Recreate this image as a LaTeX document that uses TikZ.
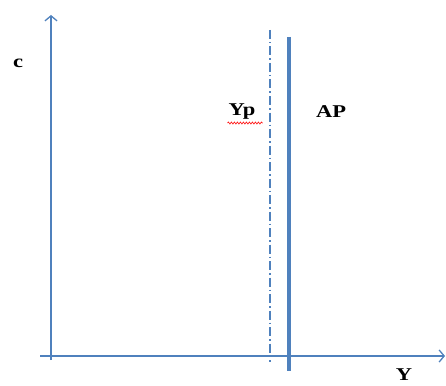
\documentclass[tikz,border=0pt]{standalone}
\usepackage{fontspec}
\setmainfont[FakeStretch=1.25]{Liberation Serif}
\usetikzlibrary{arrows.meta, decorations.pathmorphing}
\definecolor{axisblue}{HTML}{4F81BD}
\tikzstyle{axis} = [draw=axisblue, line width=1.3pt,
    -{Straight Barb[length=5pt, width=12pt, line width=1.3pt]}]
\tikzstyle{potline} = [draw=axisblue, line width=1.1pt,
    dash pattern=on 9pt off 3pt on 1.5pt off 3pt]
\tikzstyle{apline} = [draw=axisblue, line width=4pt]
\tikzstyle{axislabel} = [inner sep=0pt, font=\fontsize{18}{20}\selectfont\bfseries]

\begin{document}
\begin{tikzpicture}[x=1pt, y=-1pt]
  \useasboundingbox (0,0) rectangle (446,385);

  % axes
  \coordinate (o1) at (51,360);
  \coordinate (ctop) at (51,15);
  \coordinate (o2) at (40,356);
  \coordinate (yend) at (445,356);
  \draw[axis] (o1) -- (ctop);
  \draw[axis] (o2) -- (yend);

  % potential output and AP
  \coordinate (yptop) at (270,30);
  \coordinate (ypbot) at (270,362);
  \coordinate (aptop) at (289,37);
  \coordinate (apbot) at (289,371);
  \draw[potline] (yptop) -- (ypbot);
  \draw[apline] (aptop) -- (apbot);

  % labels
  \node (c)  [axislabel] at (18,63) {c};
  \node (yp) [axislabel] at (242,112) {Yp};
  \node (ap) [axislabel] at (331,112) {AP};
  \node (y)  [axislabel, anchor=south] at (404,381) {Y};
  \draw[red, line width=0.6pt, decorate,
        decoration={snake, amplitude=1pt, segment length=3pt}]
        ([xshift=-1pt, yshift=-3pt]yp.south west) -- ([xshift=7pt, yshift=-3pt]yp.south east);

\end{tikzpicture}
\end{document}
